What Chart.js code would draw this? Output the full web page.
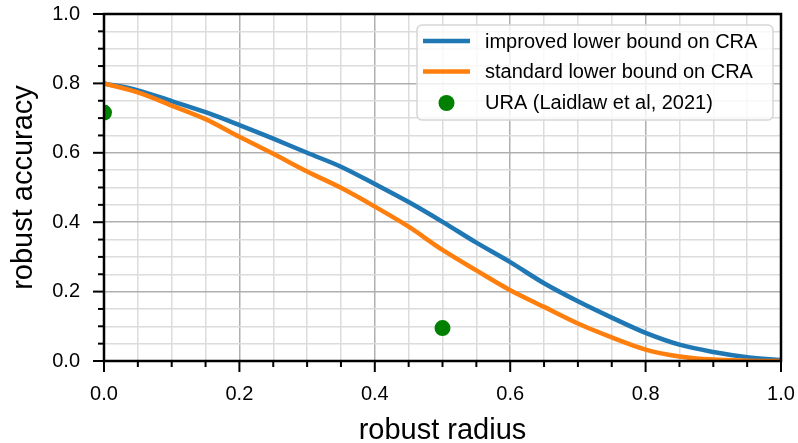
<!DOCTYPE html>
<html>
<head>
<meta charset="utf-8">
<script src="https://cdn.jsdelivr.net/npm/chart.js@4"></script>
<style>
  html, body { margin: 0; padding: 0; background: #fff; }
  #wrap { width: 798px; height: 443px; }
</style>
</head>
<body>
<div id="wrap"><canvas id="chart" width="798" height="443"></canvas></div>
<script>
// robust radius
const radius = [0, 0.05, 0.1, 0.15, 0.2, 0.25, 0.3, 0.35, 0.4, 0.45, 0.5,
  0.55, 0.6, 0.65, 0.7, 0.75, 0.8, 0.85, 0.9, 0.95, 1.0];
const improved = [0.80, 0.780, 0.749, 0.717, 0.680, 0.641, 0.600, 0.560, 0.510, 0.458, 0.401,
  0.341, 0.285, 0.224, 0.172, 0.125, 0.081, 0.047, 0.026, 0.011, 0.003];
const standard = [0.80, 0.774, 0.736, 0.697, 0.646, 0.597, 0.546, 0.499, 0.445, 0.387, 0.320,
  0.261, 0.204, 0.156, 0.108, 0.068, 0.033, 0.013, 0.004, 0.001, 0.0];
const uraX = [0.0, 0.5];
const uraY = [0.716, 0.095];

const labels = ["improved lower bound on CRA", "standard lower bound on CRA", "URA (Laidlaw et al, 2021)"];
const FONT = "'Liberation Sans', Arial, sans-serif";

const isMajor = v => Math.abs(v * 5 - Math.round(v * 5)) < 1e-6;
const noClip = { left: 0, top: 0, right: 0, bottom: 0 };

// frame, tick marks and legend
const framePlugin = {
  id: "frame",
  beforeDatasetDraw(chart) {
    const a = chart.chartArea;
    chart.ctx.save();
    chart.ctx.beginPath();
    chart.ctx.rect(a.left, a.top, a.right - a.left, a.bottom - a.top);
    chart.ctx.clip();
  },
  afterDatasetDraw(chart) {
    chart.ctx.restore();
  },
  afterDatasetsDraw(chart) {
    const ctx = chart.ctx;
    const a = chart.chartArea;
    ctx.save();
    ctx.strokeStyle = "#000";
    ctx.lineCap = "butt";
    chart.scales.x.ticks.forEach(t => {
      const px = chart.scales.x.getPixelForValue(t.value);
      const major = isMajor(t.value);
      ctx.lineWidth = 2;
      ctx.beginPath();
      ctx.moveTo(px, a.bottom);
      ctx.lineTo(px, a.bottom + (major ? 11 : 6));
      ctx.stroke();
    });
    chart.scales.y.ticks.forEach(t => {
      const py = chart.scales.y.getPixelForValue(t.value);
      const major = isMajor(t.value);
      ctx.lineWidth = 2;
      ctx.beginPath();
      ctx.moveTo(a.left, py);
      ctx.lineTo(a.left - (major ? 11 : 6), py);
      ctx.stroke();
    });
    ctx.lineWidth = 2.5;
    ctx.strokeRect(a.left, a.top, a.right - a.left, a.bottom - a.top);
    ctx.restore();
  },
  afterDraw(chart) {
    const ctx = chart.ctx;
    ctx.save();
    // legend box
    const bx = 417, by = 25, bw = 356, bh = 95, r = 5;
    ctx.beginPath();
    ctx.moveTo(bx + r, by);
    ctx.arcTo(bx + bw, by, bx + bw, by + bh, r);
    ctx.arcTo(bx + bw, by + bh, bx, by + bh, r);
    ctx.arcTo(bx, by + bh, bx, by, r);
    ctx.arcTo(bx, by, bx + bw, by, r);
    ctx.closePath();
    ctx.fillStyle = "rgba(255,255,255,0.8)";
    ctx.fill();
    ctx.strokeStyle = "#d6d6d6";
    ctx.lineWidth = 1.5;
    ctx.stroke();

    const rows = [41, 71.5, 102];
    const ds = chart.data.datasets;
    ctx.lineWidth = 4.5;
    [0, 1].forEach(i => {
      ctx.strokeStyle = ds[i].borderColor;
      ctx.beginPath();
      ctx.moveTo(423, rows[i]);
      ctx.lineTo(470, rows[i]);
      ctx.stroke();
    });
    ctx.fillStyle = ds[2].backgroundColor;
    ctx.beginPath();
    ctx.arc(446.5, rows[2] + 1, 8, 0, Math.PI * 2);
    ctx.fill();

    ctx.fillStyle = "#000";
    ctx.font = "20px " + FONT;
    ctx.textBaseline = "middle";
    ctx.textAlign = "left";
    labels.forEach((t, i) => ctx.fillText(t, 485, rows[i] + 1));
    ctx.restore();
  }
};

const canvas = document.querySelector("#chart").getContext("2d");

const chart = new Chart(canvas, {
  type: "scatter",
  data: {
    datasets: [
      {
        label: labels[0],
        data: radius.map((x, i) => ({ x: x, y: improved[i] })),
        showLine: true,
        borderColor: "#1f77b4",
        backgroundColor: "#1f77b4",
        borderWidth: 4.5,
        pointRadius: 0,
        cubicInterpolationMode: "monotone",
        clip: noClip,
        order: 2,
      },
      {
        label: labels[1],
        data: radius.map((x, i) => ({ x: x, y: standard[i] })),
        showLine: true,
        borderColor: "#ff7f0e",
        backgroundColor: "#ff7f0e",
        borderWidth: 4.5,
        pointRadius: 0,
        cubicInterpolationMode: "monotone",
        clip: noClip,
        order: 1,
      },
      {
        label: labels[2],
        data: uraX.map((x, i) => ({ x: x, y: uraY[i] })),
        backgroundColor: "#008000",
        borderColor: "#008000",
        pointRadius: 8,
        borderWidth: 0,
        clip: noClip,
        order: 0,
      },
    ],
  },
  options: {
    responsive: false,
    animation: false,
    layout: { padding: { top: 14, right: 17, bottom: 0, left: 0 } },
    plugins: {
      legend: { display: false },
      tooltip: { enabled: false },
    },
    scales: {
      x: {
        type: "linear",
        min: 0,
        max: 1,
        afterFit: s => { s.height = 82; s.paddingLeft = 0; s.paddingRight = 0; },
        border: { display: false },
        grid: {
          drawTicks: false,
          lineWidth: 1.5,
          color: c => isMajor(c.tick.value) ? "#b0b0b0" : "#dcdcdc",
        },
        ticks: {
          stepSize: 0.05,
          maxTicksLimit: 30,
          autoSkip: false,
          maxRotation: 0,
          padding: 21,
          color: "#000",
          font: { family: FONT, size: 20 },
          callback: v => isMajor(v) ? v.toFixed(1) : "",
        },
        title: {
          display: true,
          text: "robust radius",
          color: "#000",
          font: { family: FONT, size: 29, lineHeight: 0.8 },
          padding: 0,
        },
      },
      y: {
        type: "linear",
        min: 0,
        max: 1,
        afterFit: s => { s.width = 104; s.paddingTop = 0; s.paddingBottom = 0; },
        border: { display: false },
        grid: {
          drawTicks: false,
          lineWidth: 1.5,
          color: c => isMajor(c.tick.value) ? "#b0b0b0" : "#dcdcdc",
        },
        ticks: {
          stepSize: 0.05,
          maxTicksLimit: 30,
          autoSkip: false,
          padding: 24,
          color: "#000",
          font: { family: FONT, size: 20 },
          callback: v => isMajor(v) ? v.toFixed(1) : "",
        },
        title: {
          display: true,
          text: "robust accuracy",
          color: "#000",
          font: { family: FONT, size: 29, lineHeight: 1 },
          padding: { top: 9.5, bottom: 0 },
        },
      },
    },
  },
  plugins: [framePlugin],
});
</script>
</body>
</html>
